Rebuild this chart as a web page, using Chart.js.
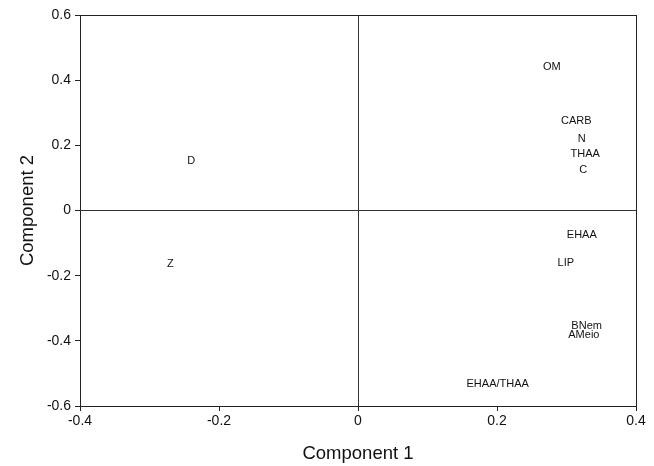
<!DOCTYPE html>
<html>
<head>
<meta charset="utf-8">
<script src="https://cdn.jsdelivr.net/npm/chart.js@4/dist/chart.umd.min.js"></script>
<style>
html,body{margin:0;padding:0;background:#fff}
#wrap{width:654px;height:466px}
</style>
</head>
<body>
<div id="wrap"><canvas id="c" width="654" height="466"></canvas></div>
<script>
// loadings
const names=["OM","CARB","N","THAA","C","D","Z","EHAA","LIP","BNem","AMeio","EHAA/THAA"];
const comp1=[0.279,0.314,0.322,0.327,0.324,-0.240,-0.270,0.322,0.299,0.329,0.325,0.201];
const comp2=[0.439,0.276,0.221,0.175,0.123,0.153,-0.163,-0.074,-0.160,-0.353,-0.383,-0.531];
const xTicks=[-0.4,-0.2,0,0.2,0.4];
const yTicks=[-0.6,-0.4,-0.2,0,0.2,0.4,0.6];

const pts=names.map((n,i)=>({x:comp1[i],y:comp2[i],label:n}));

const textLabels={
    id:"textLabels",
    afterDatasetsDraw(chart){
        const ctx=chart.ctx;
        const meta=chart.getDatasetMeta(0);
        ctx.save();
        ctx.font="11px 'Liberation Sans', Arial, sans-serif";
        ctx.fillStyle="#111";
        ctx.textAlign="center";
        ctx.textBaseline="middle";
        meta.data.forEach((p,i)=>{
            ctx.fillText(pts[i].label,p.x,p.y);
        });
        ctx.restore();
    }
};

function gridCol(vals){
    return c=>{
        const v=c.tick?c.tick.value:null;
        if(v===null)return "rgba(0,0,0,0)";
        if(Math.abs(v)<1e-9)return "#333";
        if(Math.abs(v-vals[0])<1e-9||Math.abs(v-vals[vals.length-1])<1e-9)return "#222";
        return "rgba(0,0,0,0)";
    }
}

const font="'Liberation Sans', Arial, sans-serif";

new Chart(document.getElementById("c"),{
    type:"scatter",
    data:{datasets:[{data:pts,pointRadius:0,pointHoverRadius:0}]},
    options:{
        responsive:false,
        animation:false,
        layout:{padding:{top:15,right:18,bottom:0,left:0}},
        plugins:{legend:{display:false},tooltip:{enabled:false}},
        scales:{
            x:{
                type:"linear",min:-0.4,max:0.4,
                afterBuildTicks(a){a.ticks=xTicks.map(v=>({value:v}))},
                afterFit(a){a.height=60},
                grid:{color:gridCol(xTicks),tickColor:"#222",tickLength:5,lineWidth:1},
                border:{display:false},
                ticks:{color:"#111",font:{family:font,size:14},padding:2,maxRotation:0,
                    callback:v=>v===0?"0":String(v)},
                title:{display:true,text:"Component 1",color:"#111",font:{family:font,size:18.5},padding:{top:0,bottom:1}}
            },
            y:{
                type:"linear",min:-0.6,max:0.6,
                afterBuildTicks(a){a.ticks=yTicks.map(v=>({value:v}))},
                afterFit(a){a.width=80},
                grid:{color:gridCol(yTicks),tickColor:"#222",tickLength:5,lineWidth:1},
                border:{display:false},
                ticks:{color:"#111",font:{family:font,size:14},padding:4,
                    callback:v=>v===0?"0":String(v)},
                title:{display:true,text:"Component 2",color:"#111",font:{family:font,size:18.5},padding:{top:17,bottom:0}}
            }
        }
    },
    plugins:[textLabels]
});
</script>
</body>
</html>
